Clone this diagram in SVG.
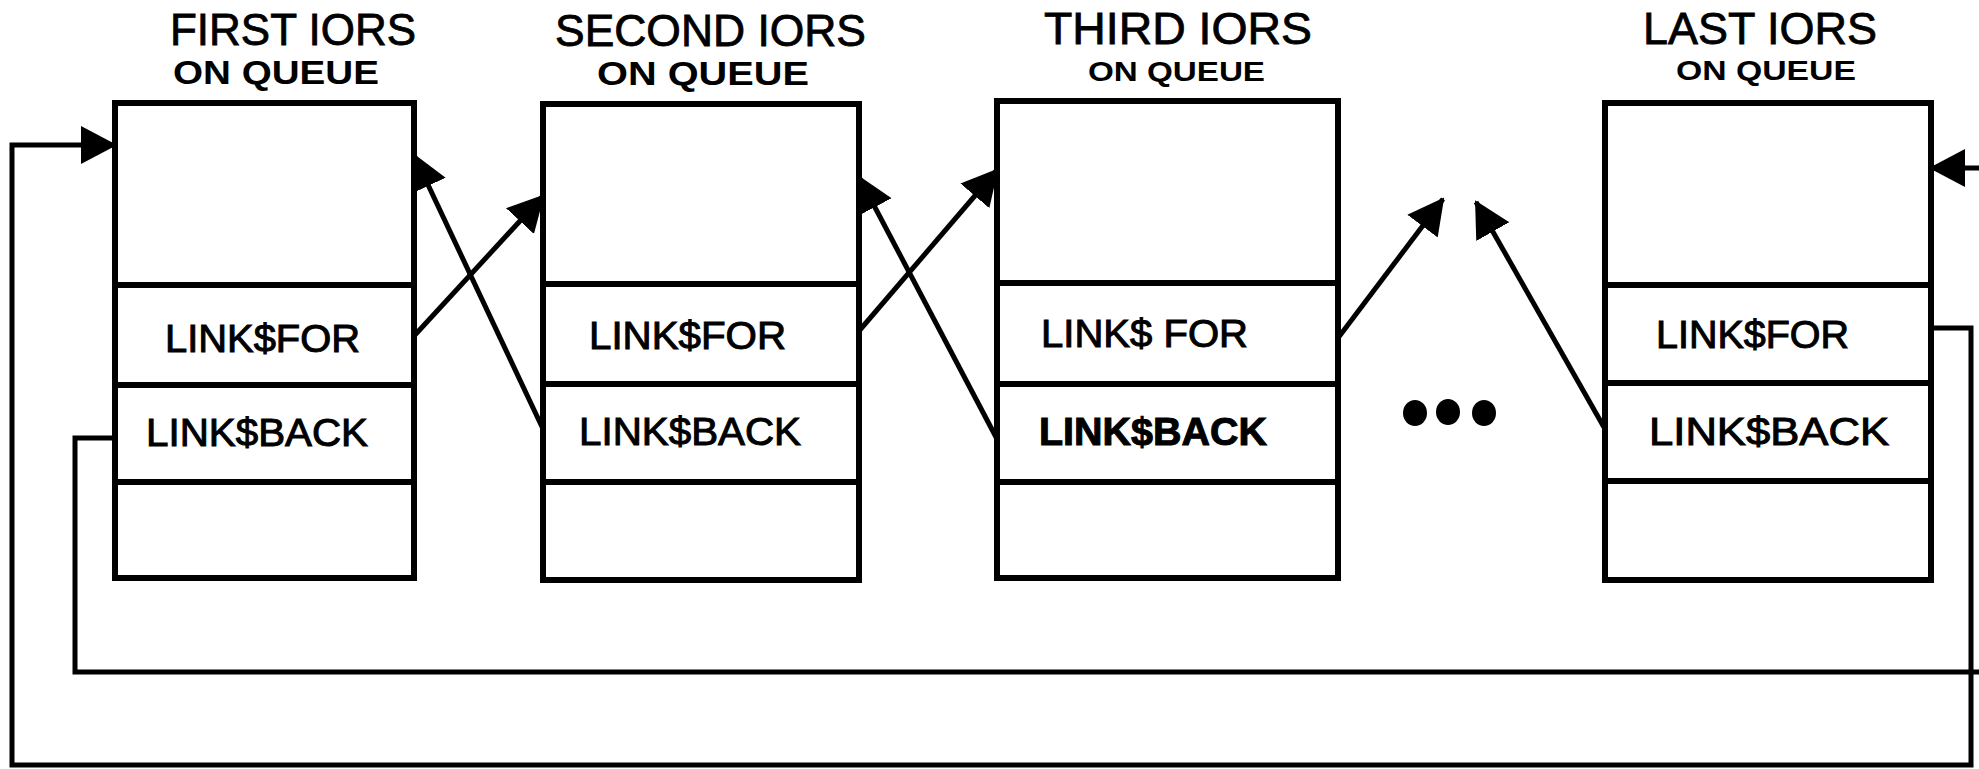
<svg xmlns="http://www.w3.org/2000/svg" width="1979" height="769" viewBox="0 0 1979 769">
<style>
.box{fill:#fff;stroke:#000;stroke-width:6;stroke-linejoin:miter}
.div{stroke:#000;stroke-width:6}
.title{font-family:"Liberation Sans",Arial,sans-serif;font-size:45px;fill:#000;stroke:#000;stroke-width:0.8}
.sub{font-family:"Liberation Sans",Arial,sans-serif;font-size:33px;font-weight:bold;fill:#000}
.fld{font-family:"Liberation Sans",Arial,sans-serif;font-size:38px;fill:#000;stroke:#000;stroke-width:1}
.con{fill:none;stroke:#000;stroke-width:5;stroke-linejoin:miter}
</style>
<defs>
<marker id="ah" markerUnits="userSpaceOnUse" markerWidth="36" markerHeight="42" refX="34" refY="21" orient="auto" viewBox="0 0 36 42">
<path d="M0,2 L36,21 L0,40 Z" fill="#000"/>
</marker>
</defs>
<rect width="1979" height="769" fill="#fff"/>

<g id="node-first">
<rect class="box" x="115" y="103" width="299" height="475"/>
<line class="div" x1="115" y1="285" x2="414" y2="285"/>
<line class="div" x1="115" y1="385" x2="414" y2="385"/>
<line class="div" x1="115" y1="482" x2="414" y2="482"/>
<text class="title" x="170" y="45" textLength="246" lengthAdjust="spacingAndGlyphs">FIRST IORS</text>
<text class="sub" x="173" y="84" textLength="206" lengthAdjust="spacingAndGlyphs">ON QUEUE</text>
<text class="fld" x="165" y="352" textLength="195" lengthAdjust="spacingAndGlyphs">LINK$FOR</text>
<text class="fld" x="146" y="446" textLength="222" lengthAdjust="spacingAndGlyphs">LINK$BACK</text>
</g>

<g id="node-second">
<rect class="box" x="543" y="104" width="316" height="476"/>
<line class="div" x1="543" y1="284" x2="859" y2="284"/>
<line class="div" x1="543" y1="384" x2="859" y2="384"/>
<line class="div" x1="543" y1="482" x2="859" y2="482"/>
<text class="title" x="555" y="46" textLength="311" lengthAdjust="spacingAndGlyphs">SECOND IORS</text>
<text class="sub" x="597" y="85" textLength="212" lengthAdjust="spacingAndGlyphs">ON QUEUE</text>
<text class="fld" x="589" y="349" textLength="197" lengthAdjust="spacingAndGlyphs">LINK$FOR</text>
<text class="fld" x="579" y="445" textLength="222" lengthAdjust="spacingAndGlyphs">LINK$BACK</text>
</g>

<g id="node-third">
<rect class="box" x="997" y="101" width="341" height="477"/>
<line class="div" x1="997" y1="283" x2="1338" y2="283"/>
<line class="div" x1="997" y1="384" x2="1338" y2="384"/>
<line class="div" x1="997" y1="482" x2="1338" y2="482"/>
<text class="title" x="1044" y="44" textLength="268" lengthAdjust="spacingAndGlyphs">THIRD IORS</text>
<text class="sub" x="1088" y="81" textLength="177" lengthAdjust="spacingAndGlyphs" style="font-size:28px">ON QUEUE</text>
<text class="fld" x="1041" y="347" textLength="207" lengthAdjust="spacingAndGlyphs">LINK$ FOR</text>
<text class="fld" x="1039" y="445" textLength="228" lengthAdjust="spacingAndGlyphs" font-weight="bold">LINK$BACK</text>
</g>

<g id="node-last">
<rect class="box" x="1605" y="103" width="326" height="477"/>
<line class="div" x1="1605" y1="285" x2="1931" y2="285"/>
<line class="div" x1="1605" y1="383" x2="1931" y2="383"/>
<line class="div" x1="1605" y1="481" x2="1931" y2="481"/>
<text class="title" x="1643" y="44" textLength="234" lengthAdjust="spacingAndGlyphs">LAST IORS</text>
<text class="sub" x="1676" y="80" textLength="180" lengthAdjust="spacingAndGlyphs" style="font-size:28px">ON QUEUE</text>
<text class="fld" x="1656" y="348" textLength="193" lengthAdjust="spacingAndGlyphs">LINK$FOR</text>
<text class="fld" x="1649" y="445" textLength="240" lengthAdjust="spacingAndGlyphs">LINK$BACK</text>
</g>

<g id="ellipsis">
<ellipse cx="1415" cy="413" rx="12" ry="13" fill="#000"/>
<ellipse cx="1448" cy="412" rx="12" ry="13" fill="#000"/>
<ellipse cx="1484" cy="413" rx="12" ry="13" fill="#000"/>
</g>

<g id="connectors">
<line class="con" x1="414" y1="336" x2="543" y2="196" marker-end="url(#ah)"/>
<line class="con" x1="543" y1="429" x2="414" y2="155" marker-end="url(#ah)"/>
<line class="con" x1="859" y1="331" x2="997" y2="170" marker-end="url(#ah)"/>
<line class="con" x1="997" y1="439" x2="859" y2="177" marker-end="url(#ah)"/>
<line class="con" x1="1338" y1="338" x2="1443" y2="199" marker-end="url(#ah)"/>
<line class="con" x1="1605" y1="429" x2="1476" y2="202" marker-end="url(#ah)"/>
<path class="con" d="M1931,328 L1971,328 L1971,765 L12,765 L12,145 L115,145" marker-end="url(#ah)"/>
<path class="con" d="M115,438 L75,438 L75,672 L1985,672"/>
<path class="con" d="M1985,168 L1931,168" marker-end="url(#ah)"/>
</g>
</svg>
